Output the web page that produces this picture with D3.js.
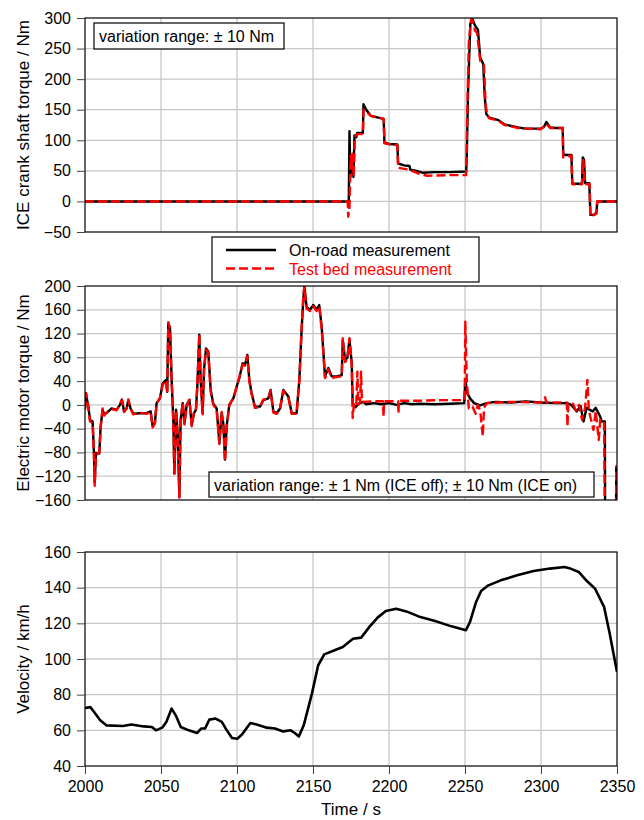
<!DOCTYPE html>
<html>
<head>
<meta charset="utf-8">
<script src="https://cdn.jsdelivr.net/npm/d3@7"></script>
<style>
  body { margin: 0; background: #fff; }
  text { font-family: Arial, "Liberation Sans", sans-serif; }
</style>
</head>
<body>
<div id="chart"></div>
<script>
// tick values
const timeTicks = [2000, 2050, 2100, 2150, 2200, 2250, 2300, 2350];
const iceTicks = [-50, 0, 50, 100, 150, 200, 250, 300];
const emTicks = [-160, -120, -80, -40, 0, 40, 80, 120, 160, 200];
const velTicks = [40, 60, 80, 100, 120, 140, 160];

// ICE crank shaft torque [time s, Nm]
const iceOnRoad = [[2000,0],[2173,0],[2173.5,-10],[2174,115],[2174.6,40],[2175.2,70],[2176,60],[2176.6,40],
  [2177.3,108],[2178.5,105],[2179,112],[2182.8,112],[2183.2,159],[2185,150],[2188,140],[2193,137],[2196.5,135],
  [2197,96],[2200,94],[2205.5,93],[2206,62],[2210,59],[2213.5,58],[2214,52],[2218,50],[2222,47],[2230,48],
  [2240,48],[2250.8,49],[2251.2,78],[2252,180],[2253.5,290],[2255,298],[2256.5,288],[2258.5,281],[2260,235],
  [2262,225],[2263,170],[2264,143],[2266,137],[2272,133],[2276,126],[2285,121],[2290,119],[2300,119],[2302,122],
  [2303.5,130],[2306,121],[2310,120],[2314.3,120],[2314.6,78],[2316,76],[2320,76],[2320.6,29],[2326,29],[2327,30],
  [2327.5,72],[2328.3,68],[2329,30],[2331.8,30],[2332.5,-22],[2335,-22],[2336.5,-18],[2337,0],[2350,0]];
const iceTestBed = [[2000,0],[2172.8,0],[2173.2,-25],[2174,-10],[2174.8,75],[2175.5,55],[2176,78],[2176.8,40],
  [2177.5,105],[2179,110],[2182.8,110],[2183.3,150],[2188,140],[2196.5,135],[2197,95],[2205.5,92],[2206,55],
  [2213,52],[2220,45],[2225,42],[2240,43],[2250.8,43],[2251.5,150],[2252.5,260],[2254,298],[2255,295],[2256.5,280],
  [2258,275],[2260,230],[2262.5,222],[2263.5,160],[2264.5,142],[2266,136],[2272,132],[2276,125],[2285,120],
  [2300,118],[2303.5,127],[2306,120],[2314.3,120],[2314.6,72],[2320,75],[2320.6,28],[2327,28],[2327.8,68],
  [2329,28],[2332,28],[2332.5,-25],[2336.5,-20],[2337,0],[2350,0]];

// electric motor torque [time s, Nm]
const emOnRoad = [[2000,-5],[2000.7,18],[2002.2,-3],[2003.3,-25],[2005,-28],[2005.9,-81],[2006.4,-130],[2007.2,-81],
  [2009.4,-82],[2010.3,-36],[2011.6,-8],[2012.5,-16],[2015.4,-11],[2017.5,-6],[2020.8,-8],[2023,0],[2024.3,9],
  [2025.7,-11],[2027.4,-6],[2028.5,8],[2030,-6],[2031.8,-15],[2036.2,-14],[2040.5,-14],[2043.2,-11],[2044.5,-36],
  [2046,-30],[2047.1,3],[2049.3,11],[2051.1,36],[2053.3,42],[2054.1,22],[2054.8,137],[2055.9,130],[2057,42],
  [2058.1,-25],[2058.8,-115],[2059.9,-8],[2061,-53],[2062.1,-154],[2062.9,-25],[2064.3,3],[2065.4,-31],[2066.9,0],
  [2068.7,8],[2070.2,-34],[2071.7,-14],[2073,-8],[2073.9,31],[2075.2,118],[2076.1,42],[2077.4,-14],[2078.3,59],
  [2079.6,95],[2081.1,90],[2082.7,25],[2084.4,2],[2086.6,-6],[2088.4,-64],[2089.9,-14],[2091,-31],[2092.1,-92],
  [2093.2,-36],[2094.9,0],[2097.6,11],[2099.8,31],[2101.5,45],[2103.7,70],[2105.2,67],[2106.8,84],[2108.1,42],
  [2109.6,20],[2111.8,-3],[2115.1,-3],[2117.3,8],[2120.6,11],[2122.1,25],[2123.9,-11],[2126.1,-14],[2128.3,-6],
  [2130.5,25],[2133.8,14],[2136,-14],[2139.2,-14],[2141,42],[2142.5,126],[2143.6,177],[2144.3,199],[2145.8,165],
  [2148,160],[2150.2,168],[2152.4,160],[2154.1,168],[2155.7,132],[2157.9,48],[2160.1,62],[2162.3,48],[2165.6,48],
  [2168.9,50],[2169.6,109],[2171.1,76],[2172.6,79],[2174,110],[2175.5,70],[2176.1,3],[2178,-4],[2180,2],[2183,5],
  [2185,1],[2190,3],[2195,1],[2200,3],[2205,0],[2210,3],[2215,1],[2220,2],[2230,1],[2240,2],[2249.5,3],
  [2250.2,42],[2251.5,20],[2253.3,11],[2256,3],[2259.9,-1],[2264.3,3],[2270,5],[2280,4],[2290,6],[2300,4],
  [2310,3],[2317,3],[2320,0],[2323.5,-11],[2326,-2],[2328,-28],[2330,-5],[2334,-11],[2336,-5],[2339,-20],
  [2340,-28],[2342,-28],[2342.2,-200],[2349.4,-200],[2349.5,-104],[2350,-104]];
const emTestBed = [[2000,-8],[2000.7,20],[2002.2,-5],[2003.3,-28],[2005,-30],[2005.9,-85],[2006.4,-136],[2007.2,-84],
  [2009.4,-80],[2010.3,-38],[2011.6,-6],[2012.5,-18],[2015.4,-10],[2017.5,-7],[2020.8,-9],[2023,1],[2024.3,8],
  [2025.7,-12],[2027.4,-5],[2028.5,9],[2030,-7],[2031.8,-16],[2036.2,-13],[2040.5,-15],[2043.2,-12],[2044.5,-38],
  [2046,-31],[2047.1,2],[2049.3,12],[2051.1,34],[2053.3,40],[2054.1,20],[2054.8,139],[2055.9,128],[2057,40],
  [2058.1,-28],[2058.8,-118],[2059.9,-10],[2061,-55],[2062.1,-156],[2062.9,-28],[2064.3,4],[2065.4,-33],[2066.9,-2],
  [2068.7,9],[2070.2,-36],[2071.7,-12],[2073,-9],[2073.9,33],[2075.2,120],[2076.1,40],[2077.4,-16],[2078.3,60],
  [2079.6,93],[2081.1,88],[2082.7,22],[2084.4,0],[2086.6,-8],[2088.4,-66],[2089.9,-12],[2091,-33],[2092.1,-95],
  [2093.2,-38],[2094.9,-2],[2097.6,12],[2099.8,30],[2101.5,46],[2103.7,68],[2105.2,66],[2106.8,82],[2108.1,40],
  [2109.6,18],[2111.8,-5],[2115.1,-4],[2117.3,9],[2120.6,10],[2122.1,24],[2123.9,-13],[2126.1,-15],[2128.3,-7],
  [2130.5,24],[2133.8,12],[2136,-15],[2139.2,-15],[2141,40],[2142.5,128],[2143.6,180],[2144.3,200],[2145.8,162],
  [2148,158],[2150.2,166],[2152.4,158],[2154.1,166],[2155.7,128],[2157.9,45],[2160.1,60],[2162.3,45],[2165.6,47],
  [2168.9,48],[2169.6,112],[2171.1,72],[2172.6,76],[2174,112],[2175.5,65],[2176.1,-22],[2177,5],[2178.5,2],
  [2179.2,56],[2179.8,0],[2181,5],[2181.6,56],[2182.2,5],[2190,6],[2196,6],[2196.4,-20],[2196.8,6],[2206,6],
  [2206.2,-14],[2206.6,7],[2220,7],[2235,8],[2249.8,8],[2250.2,140],[2251.2,40],[2252.5,-6],[2255,-3],[2257,-15],
  [2258.5,0],[2260,-10],[2261.7,-53],[2262.5,-5],[2264.3,3],[2280,5],[2300,4],[2302.7,13],[2303.5,4],[2317,4],
  [2317.4,-36],[2318,3],[2321,2],[2323,-10],[2325,0],[2327,-25],[2329,-5],[2330.5,42],[2331.5,-10],[2334.5,-42],
  [2336,-10],[2338,-59],[2339,-25],[2340,-28],[2341.5,-28],[2342,-200],[2349.4,-200],[2349.5,-104],[2350,-104]];

// velocity [time s, km/h]
const velocity = [[2000,72.5],[2003.5,73],[2006,70.3],[2010,65.6],[2014,62.8],[2025,62.4],[2030.5,63.3],
  [2038.6,62.2],[2044,61.9],[2046.7,60],[2050.8,61.5],[2053.5,64.7],[2057,72.2],[2059.7,68.4],[2063,61.9],
  [2068.3,60],[2073.7,58.5],[2076.4,61],[2079,61],[2081.8,66],[2085.9,66.6],[2090,64.7],[2093,60.4],[2096.7,55.7],
  [2100.2,55.3],[2103.4,57.8],[2108.8,64.1],[2112.9,63.3],[2119.6,61.5],[2125,61],[2130.4,59.4],[2135.3,60],
  [2138,58.5],[2140.7,56.6],[2143.9,62.8],[2149.3,80.6],[2153.4,96.5],[2157.4,102.6],[2164.2,104.9],[2169.6,106.7],
  [2176.3,111.4],[2181.7,112],[2187.1,118],[2192.5,123.2],[2197.9,126.9],[2204.7,128.2],[2211.4,126.7],
  [2219.5,123.9],[2230.3,121.3],[2241.1,118.3],[2250.6,116.1],[2253.3,120.8],[2257.3,132],[2260.6,138.1],
  [2265.4,141.3],[2273.5,144.1],[2284.3,146.9],[2295.1,149.3],[2305.9,150.7],[2315.4,151.6],[2319.4,150.7],
  [2324.8,148.8],[2330.2,143.7],[2335.6,139.4],[2341.5,129.2],[2345,115.1],[2350,92.7]];

const W = 644, H = 820;
const FONT = "Arial, 'Liberation Sans', sans-serif";
const svg = d3.select("#chart").append("svg")
    .attr("width", W)
    .attr("height", H);

const x = d3.scaleLinear().domain([2000, 2350]).range([85, 617]);

const panels = [
  {id: "ice", top: 18, bottom: 232, domain: [-50, 300], ticks: iceTicks, title: "ICE crank shaft torque / Nm",
   series: [{data: iceOnRoad, color: "#000"}, {data: iceTestBed, color: "#ff0000", dash: "9,4"}]},
  {id: "em", top: 286, bottom: 500, domain: [-160, 200], ticks: emTicks, title: "Electric motor torque / Nm",
   series: [{data: emOnRoad, color: "#000"}, {data: emTestBed, color: "#ff0000", dash: "9,4"}]},
  {id: "vel", top: 552, bottom: 766, domain: [40, 160], ticks: velTicks, title: "Velocity / km/h",
   series: [{data: velocity, color: "#000", width: 2.6}]}
];

panels.forEach((p, i) => {
    const y = d3.scaleLinear().domain(p.domain).range([p.bottom, p.top]);
    const g = svg.append("g");

    g.append("clipPath").attr("id", "clip-" + p.id)
        .append("rect")
        .attr("x", x.range()[0]).attr("y", p.top)
        .attr("width", x.range()[1] - x.range()[0])
        .attr("height", p.bottom - p.top);

    // grid
    g.selectAll(".hgrid")
        .data(p.ticks.slice(1, -1))
        .enter().append("line")
        .attr("x1", x.range()[0]).attr("x2", x.range()[1])
        .attr("y1", d => y(d)).attr("y2", d => y(d))
        .attr("stroke", "#c8c8c8").attr("stroke-width", 1.3);
    g.selectAll(".vgrid")
        .data(timeTicks.slice(1, -1))
        .enter().append("line")
        .attr("x1", d => x(d)).attr("x2", d => x(d))
        .attr("y1", p.top).attr("y2", p.bottom)
        .attr("stroke", "#c8c8c8").attr("stroke-width", 1.3);

    // lines, on-road first so the test bed dashes lie on top
    const line = d3.line().x(d => x(d[0])).y(d => y(d[1]));
    const lg = g.append("g").attr("clip-path", `url(#clip-${p.id})`);
    p.series.forEach(s => {
        lg.append("path")
            .datum(s.data)
            .attr("d", line)
            .attr("fill", "none")
            .attr("stroke", s.color)
            .attr("stroke-width", s.width || 2.4)
            .attr("stroke-linejoin", "round")
            .attr("stroke-dasharray", s.dash || null);
    });

    // frame
    g.append("rect")
        .attr("x", x.range()[0]).attr("y", p.top)
        .attr("width", x.range()[1] - x.range()[0])
        .attr("height", p.bottom - p.top)
        .attr("fill", "none").attr("stroke", "#000").attr("stroke-width", 1.2);

    // y axis
    const ya = g.append("g")
        .attr("transform", `translate(${x.range()[0]},0)`)
        .call(d3.axisLeft(y).tickValues(p.ticks).tickSize(8).tickPadding(6));
    ya.select(".domain").remove();
    ya.selectAll("line").attr("stroke", "#444");
    ya.selectAll("text").attr("font-size", 16).attr("font-family", FONT).attr("fill", "#000");

    g.append("text")
        .attr("transform", `translate(29,${(p.top + p.bottom) / 2}) rotate(-90)`)
        .attr("text-anchor", "middle")
        .attr("font-size", 17)
        .text(p.title);

    if (i === panels.length - 1) {
        const xa = g.append("g")
            .attr("transform", `translate(0,${p.bottom})`)
            .call(d3.axisBottom(x).tickValues(timeTicks).tickFormat(d3.format("d")).tickSize(8).tickPadding(7));
        xa.select(".domain").remove();
        xa.selectAll("line").attr("stroke", "#444");
        xa.selectAll("text").attr("font-size", 16).attr("font-family", FONT).attr("fill", "#000");
        g.append("text")
            .attr("x", (x.range()[0] + x.range()[1]) / 2)
            .attr("y", 815)
            .attr("text-anchor", "middle")
            .attr("font-size", 17)
            .text("Time / s");
    }
});

// annotation boxes
function noteBox(x0, y0, w, h, label) {
    svg.append("rect").attr("x", x0).attr("y", y0).attr("width", w).attr("height", h)
        .attr("fill", "#fff").attr("stroke", "#000").attr("stroke-width", 1.2);
    svg.append("text").attr("x", x0 + 5).attr("y", y0 + h / 2 + 6)
        .attr("font-size", 16).text(label);
}
noteBox(94, 23, 190, 26, "variation range: \u00b1 10 Nm");
noteBox(209, 472, 385, 25, "variation range: \u00b1 1 Nm (ICE off); \u00b1 10 Nm (ICE on)");

// legend
const legend = svg.append("g");
legend.append("rect").attr("x", 212).attr("y", 237).attr("width", 267).attr("height", 45)
    .attr("fill", "#fff").attr("stroke", "#000").attr("stroke-width", 1.2);
const legendItems = [
  {label: "On-road measurement", color: "#000", dash: null},
  {label: "Test bed measurement", color: "#ff0000", dash: "9,4"}
];
legend.selectAll(".item")
    .data(legendItems)
    .enter().append("g")
    .attr("transform", (d, i) => `translate(0,${250 + i * 18.5})`)
    .each(function(d) {
        const it = d3.select(this);
        it.append("line").attr("x1", 226).attr("x2", 276).attr("y1", 0).attr("y2", 0)
            .attr("stroke", d.color).attr("stroke-width", 2.4).attr("stroke-dasharray", d.dash);
        it.append("text").attr("x", 289).attr("y", 6).attr("font-size", 16)
            .attr("fill", d.color).text(d.label);
    });
</script>
</body>
</html>
